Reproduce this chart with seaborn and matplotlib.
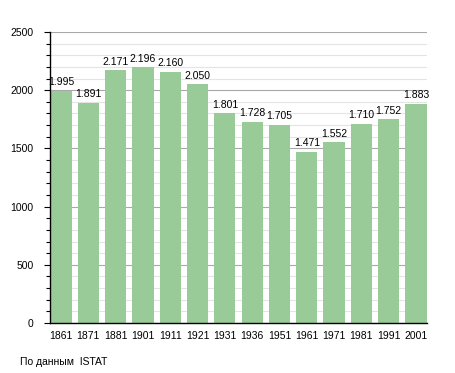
import matplotlib
matplotlib.use("Agg")
import matplotlib.pyplot as plt
import seaborn as sns
import pandas as pd
from matplotlib.ticker import MultipleLocator

years = ["1861", "1871", "1881", "1901", "1911", "1921", "1931",
         "1936", "1951", "1961", "1971", "1981", "1991", "2001"]
population = [1995, 1891, 2171, 2196, 2160, 2050, 1801,
              1728, 1705, 1471, 1552, 1710, 1752, 1883]
source_text = "По данным  ISTAT"

df = pd.DataFrame({"year": years, "pop": population})

sns.set_style("white")
plt.rcParams['font.family'] = ['Liberation Sans', 'DejaVu Sans']
plt.rcParams['text.color'] = 'black'
plt.rcParams['xtick.color'] = 'black'
plt.rcParams['ytick.color'] = 'black'

fig = plt.figure(figsize=(4.55, 3.73), dpi=100)
ax = fig.add_axes([50/455, 50/373, 377/455, 291/373])

sns.barplot(data=df, x="year", y="pop", color="#98CB98", saturation=1,
            width=0.78, ax=ax, edgecolor="none", linewidth=0)
for p in ax.patches:
    p.set_zorder(3)

ax.set_xlim(-0.4, 13.4)
ax.set_ylim(0, 2500)
ax.yaxis.set_major_locator(MultipleLocator(500))
ax.yaxis.set_minor_locator(MultipleLocator(100))
ax.set_axisbelow(True)
ax.grid(which="major", axis="y", color="#a8a8a8", linewidth=0.8)
ax.grid(which="minor", axis="y", color="#e4e4e4", linewidth=0.8)
ax.grid(which="major", axis="x", visible=False)

for s in ["top", "right"]:
    ax.spines[s].set_visible(False)
for s in ["left", "bottom"]:
    ax.spines[s].set_color("black")
    ax.spines[s].set_linewidth(1.0)
    ax.spines[s].set_zorder(5)

ax.tick_params(axis="y", which="major", left=True, length=4, width=0.8,
               labelsize=7.5, pad=8, color="black", labelcolor="black")
ax.tick_params(axis="y", which="minor", left=True, length=3, width=0.8,
               color="black")
ax.tick_params(axis="x", bottom=False, labelsize=7.5, pad=2,
               labelcolor="black")
ax.set_xlabel("")
ax.set_ylabel("")

for i, v in enumerate(population):
    ax.text(i, v + 30, f"{v:,}".replace(",", "."), ha="center", va="bottom",
            fontsize=7.5, color="black", zorder=6)

fig.text(20/455, 1 - 362/373, source_text, fontsize=7.5, ha="left",
         va="center", color="black")

fig.savefig("out.png", dpi=100)
